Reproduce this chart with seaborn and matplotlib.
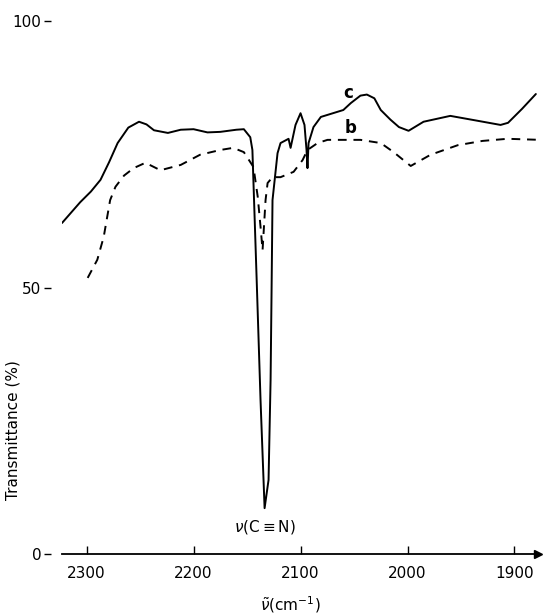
import matplotlib
matplotlib.use("Agg")
import matplotlib.pyplot as plt
import seaborn as sns
import pandas as pd

# spectrum c (solid)
wn_c = [2323, 2306, 2296, 2287, 2279, 2271, 2261, 2251, 2244, 2237, 2224, 2212,
        2200, 2187, 2175, 2160, 2153, 2147, 2145, 2141, 2137.4, 2133.6, 2129.9,
        2128, 2127.1, 2126.2, 2121.5, 2118.7, 2111.2, 2109.3, 2104.7, 2100,
        2096.3, 2094.4, 2093.5, 2092.5, 2087.9, 2081, 2060, 2053, 2044, 2038,
        2031, 2025, 2016, 2008, 1999, 1985, 1960, 1935, 1913, 1906, 1893, 1880]
t_c = [62.1, 66.0, 68.0, 70.2, 73.5, 77.1, 80.0, 81.1, 80.6, 79.5, 79.0, 79.6,
       79.7, 79.1, 79.2, 79.6, 79.7, 78.2, 75.8, 51.4, 28.9, 8.6, 13.9,
       32.6, 49.0, 66.4, 75.2, 77.1, 77.9, 76.2, 80.5, 82.7,
       80.5, 75.8, 72.4, 77.1, 80.1, 82.0, 83.3, 84.6, 86.0, 86.2,
       85.5, 83.3, 81.5, 80.1, 79.4, 81.1, 82.2, 81.3, 80.5, 80.9, 83.5, 86.3]

# spectrum b (dashed)
wn_b = [2299, 2290, 2284, 2278, 2273, 2265, 2256, 2245, 2231, 2212, 2194, 2175,
        2163, 2153, 2144, 2140, 2137.4, 2135.5, 2132.7, 2130.8, 2126.2, 2118.7,
        2106.5, 2098.1, 2093.5, 2084.1, 2074.8, 2044, 2025, 2013, 1997,
        1978.5, 1953, 1930, 1906.5, 1876]
t_b = [51.8, 55.2, 59.5, 66.4, 68.9, 71.0, 72.4, 73.4, 72.0, 73.0, 74.9, 75.8,
       76.2, 75.4, 72.6, 67.0, 61.4, 57.0, 66.4, 69.6, 70.7, 70.7,
       71.7, 73.9, 75.8, 77.1, 77.7, 77.7, 77.1, 75.4, 72.8,
       74.9, 76.7, 77.5, 77.9, 77.7]

x_ticks = [2300, 2200, 2100, 2000, 1900]
y_ticks = [0, 50, 100]

df_c = pd.DataFrame({'wn': wn_c, 'T': t_c})
df_b = pd.DataFrame({'wn': wn_b, 'T': t_b})

sns.set_style('white')
plt.rcParams['font.family'] = ['DejaVu Sans']
plt.rcParams['text.color'] = 'black'
plt.rcParams['axes.labelcolor'] = 'black'
plt.rcParams['lines.solid_joinstyle'] = 'round'

fig = plt.figure(figsize=(5.43, 6.16), dpi=100)
ax = fig.add_axes([62 / 543, 1 - 554 / 616, 476 / 543, 533 / 616])

sns.lineplot(data=df_c, x='wn', y='T', ax=ax, color='black', lw=1.4,
             sort=False, estimator=None)
sns.lineplot(data=df_b, x='wn', y='T', ax=ax, color='black', lw=1.4,
             sort=False, estimator=None, linestyle=(0, (4.5, 3.5)))

ax.set_xlim(2323, 1878)
ax.set_ylim(0, 100)
ax.set_xticks(x_ticks)
ax.set_yticks(y_ticks)

for s in ['top', 'right']:
    ax.spines[s].set_visible(False)
ax.spines['left'].set_visible(False)
ax.spines['left'].set_position(('outward', 8))
ax.spines['bottom'].set_linewidth(1.3)
ax.spines['bottom'].set_color('black')

ax.tick_params(axis='x', direction='in', length=6, width=1, colors='black',
               labelsize=11, pad=9, bottom=True)
ax.tick_params(axis='y', direction='out', length=5, width=1, colors='black',
               labelsize=11, pad=2, left=True)

# arrow head at end of x axis
ax.plot(1, 0, '>', color='black', ms=6, transform=ax.transAxes, clip_on=False)

ax.set_xlabel(r'$\tilde{\nu}$(cm$^{-1}$)', fontsize=11)
ax.xaxis.set_label_coords(0.48, -0.075)
ax.set_ylabel('Transmittance (%)', fontsize=11)
ax.yaxis.set_label_coords(-0.088, 0.233)

ax.text(2133, 5.0, r'$\nu$(C$\equiv$N)', ha='center', va='center', fontsize=11)
ax.text(2055, 86.5, 'c', ha='center', va='center', fontsize=12, fontweight='bold')
ax.text(2053, 80.0, 'b', ha='center', va='center', fontsize=12, fontweight='bold')

fig.savefig('out.png', dpi=100)
